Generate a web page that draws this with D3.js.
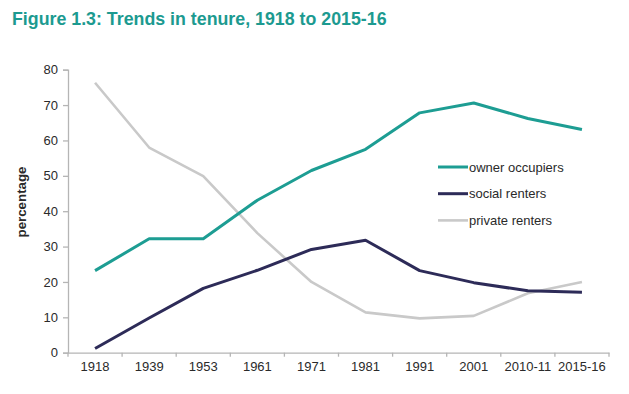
<!DOCTYPE html>
<html>
<head>
<meta charset="utf-8">
<script src="https://cdn.jsdelivr.net/npm/d3@7"></script>
<style>
  body { margin: 0; background: #fff; }
  svg { display: block; font-family: "Liberation Sans", Arial, sans-serif; }
</style>
</head>
<body>
<div id="chart"></div>
<script>
// Chart data
const years = ['1918', '1939', '1953', '1961', '1971', '1981', '1991', '2001', '2010-11', '2015-16'];
const ownerOccupiers = [23.2, 32.2, 32.2, 43.1, 51.5, 57.5, 67.8, 70.6, 66.2, 63.1];
const socialRenters = [1.2, 9.8, 18.2, 23.3, 29.2, 31.8, 23.2, 19.8, 17.5, 17.1];
const privateRenters = [76.3, 58, 49.9, 33.8, 20, 11.4, 9.7, 10.4, 16.8, 20];
const yTicks = [0, 10, 20, 30, 40, 50, 60, 70, 80];

const series = [
  { name: 'owner occupiers', values: ownerOccupiers, color: '#1d9d93', width: 3 },
  { name: 'social renters', values: socialRenters, color: '#2d2b58', width: 3 },
  { name: 'private renters', values: privateRenters, color: '#c9c9c9', width: 2.6 }
];

const width = 629, height = 394;

const svg = d3.select('#chart')
  .append('svg')
    .attr('width', width)
    .attr('height', height);

// Title
svg.append('text')
  .attr('x', 12)
  .attr('y', 25)
  .attr('fill', '#1c9a90')
  .attr('font-weight', 'bold')
  .attr('font-size', 17.8)
  .text('Figure 1.3: Trends in tenure, 1918 to 2015-16');

// Scales
const xScale = d3.scaleBand()
  .domain(years)
  .range([68, 609])
  .padding(0);

const yScale = d3.scaleLinear()
  .domain([0, 80])
  .range([352.7, 69.7]);

const axisColor = '#b5b5b5';

// Y axis
const yAxis = svg.append('g')
  .attr('transform', 'translate(68, 0)')
  .call(d3.axisLeft(yScale).tickValues(yTicks).tickSize(5).tickPadding(5));
yAxis.select('.domain').attr('stroke', axisColor).attr('stroke-width', 1.3);
yAxis.selectAll('.tick line').attr('stroke', axisColor).attr('stroke-width', 1.3);
yAxis.selectAll('.tick text').attr('font-size', 13).attr('fill', '#2a2a2a');

// X axis, ticks on band edges
const xAxis = svg.append('g')
  .attr('transform', `translate(0, ${yScale(0)})`)
  .call(d3.axisBottom(xScale).tickSize(0).tickPadding(9));
xAxis.select('.domain').attr('stroke', axisColor).attr('stroke-width', 1.3);
xAxis.selectAll('.tick text').attr('font-size', 13).attr('fill', '#2a2a2a');
xAxis.selectAll('.edge')
  .data(years.concat(['end']))
  .join('line')
    .attr('x1', (d, i) => xScale.range()[0] + i * xScale.bandwidth())
    .attr('x2', (d, i) => xScale.range()[0] + i * xScale.bandwidth())
    .attr('y1', 0)
    .attr('y2', 4)
    .attr('stroke', axisColor)
    .attr('stroke-width', 1.3);

// Y axis title
svg.append('text')
  .attr('transform', 'translate(26, 202) rotate(-90)')
  .attr('text-anchor', 'middle')
  .attr('font-weight', 'bold')
  .attr('font-size', 13.3)
  .attr('fill', '#2a2a2a')
  .text('percentage');

// Lines
const line = d3.line()
  .x((d, i) => xScale(years[i]) + xScale.bandwidth() / 2)
  .y(d => yScale(d));

// draw private first so the others sit on top
[series[2], series[1], series[0]].forEach(s => {
  svg.append('path')
    .datum(s.values)
    .attr('fill', 'none')
    .attr('stroke', s.color)
    .attr('stroke-width', s.width)
    .attr('stroke-linejoin', 'round')
    .attr('d', line);
});

// Legend
const legend = svg.append('g')
  .attr('transform', 'translate(438, 167)');

series.forEach((s, i) => {
  const row = legend.append('g').attr('transform', `translate(0, ${i * 26.7})`);
  row.append('line')
    .attr('x1', 0).attr('x2', 30)
    .attr('stroke', s.color)
    .attr('stroke-width', s.width);
  row.append('text')
    .attr('x', 31)
    .attr('dy', '0.35em')
    .attr('font-size', 13)
    .attr('fill', '#2a2a2a')
    .text(s.name);
});
</script>
</body>
</html>
